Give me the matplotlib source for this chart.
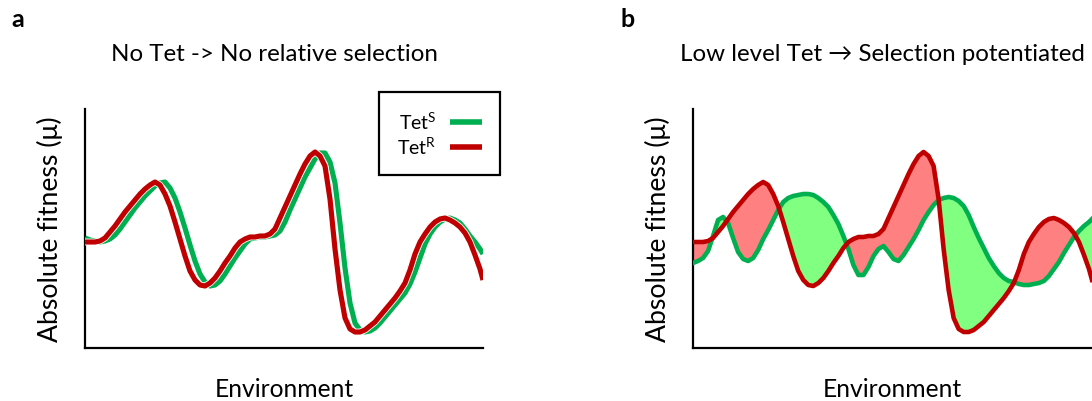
import matplotlib
matplotlib.use("Agg")
import matplotlib.pyplot as plt
import matplotlib.patheffects as pe
import numpy as np

plt.rcParams['font.family'] = ['Lato', 'DejaVu Sans']
plt.rcParams['mathtext.default'] = 'regular'

# shared environment grid
env = [0, 5, 10, 15, 20, 25, 30, 35, 40, 45, 50, 55, 60, 65, 70, 75, 80, 85, 90, 95,
       100, 105, 110, 115, 120, 125, 130, 135, 140, 145, 150, 155, 160, 165, 170, 175,
       180, 185, 190, 195, 200, 205, 210, 215, 220, 225, 230, 235, 240, 245, 250, 255,
       260, 265, 270, 275, 280, 285, 290, 295, 300, 305, 310, 315, 320, 325, 330, 335,
       340, 345, 350, 355, 360, 365, 370, 375, 380, 385, 390, 395, 398]

# Tet-R fitness (same landscape in both panels)
tetR = [106, 106, 106, 107, 110, 116, 122, 129, 136, 142, 148, 154, 159, 163, 166, 163,
        154, 142, 126, 109, 92, 77, 68, 63, 62, 65, 70, 77, 85, 92, 100, 106, 109, 111,
        111, 112, 112, 114, 119, 130, 141, 152, 163, 174, 184, 192, 196, 192, 182, 149,
        99, 58, 30, 19, 16, 16, 18, 22, 26, 32, 38, 44, 50, 57, 65, 78, 94, 106, 114,
        121, 126, 129, 130, 128, 125, 121, 115, 106, 93, 79, 68]

# Tet-S fitness, no tetracycline
tetS_a = [110, 108, 107, 106, 107, 109, 113, 119, 126, 133, 140, 146, 152, 157, 162, 165,
          166, 160, 150, 136, 120, 103, 87, 74, 66, 62, 63, 67, 74, 82, 90, 97, 104, 109,
          110, 111, 111, 112, 113, 117, 126, 138, 149, 160, 171, 180, 189, 195, 195, 186,
          165, 125, 80, 45, 25, 18, 16, 17, 20, 25, 31, 37, 43, 49, 55, 64, 76, 90, 104,
          114, 121, 126, 129, 130, 128, 125, 119, 112, 106, 99, 94]

# Tet-S fitness, low level tetracycline
tetS_b = [85, 87, 90, 97, 112, 128, 131, 125, 110, 96, 89, 87, 90, 98, 109, 118, 128, 138,
          146, 150, 152, 153, 154, 154, 153, 150, 146, 141, 133, 124, 112, 99, 83, 73, 73,
          81, 92, 99, 102, 96, 89, 87, 93, 101, 109, 118, 128, 136, 143, 148, 150, 151,
          150, 147, 142, 133, 121, 110, 100, 90, 82, 75, 70, 67, 66, 64, 63, 63, 64, 65,
          67, 72, 79, 86, 95, 103, 111, 117, 122, 126, 129]

GREEN = '#00B050'
RED = '#C00000'
FILL_RED = '#FF8080'
FILL_GREEN = '#80FF80'

W, H = 1092, 402
fig = plt.figure(figsize=(W / 100, H / 100), dpi=100)

ax_a = fig.add_axes([85 / W, 53 / H, 398 / W, 239 / H])
ax_b = fig.add_axes([693 / W, 53 / H, 399 / W, 239 / H])

x = np.array(env)
r = np.array(tetR)
ga = np.array(tetS_a)
gb = np.array(tetS_b)

# panel a
l1, = ax_a.plot(x, ga, color=GREEN, lw=3.7, solid_capstyle='butt', solid_joinstyle='round',
                label='Tet$^{S}$', zorder=3)
l2, = ax_a.plot(x, r, color=RED, lw=3.7, solid_capstyle='butt', solid_joinstyle='round',
                label='Tet$^{R}$', zorder=4,
                path_effects=[pe.Stroke(linewidth=4.9, foreground='white'), pe.Normal()])

# panel b
ax_b.fill_between(x, r, gb, where=r >= gb, interpolate=True, color=FILL_RED, lw=0, zorder=1)
ax_b.fill_between(x, r, gb, where=gb >= r, interpolate=True, color=FILL_GREEN, lw=0, zorder=1)
ax_b.plot(x, gb, color=GREEN, lw=3.3, solid_joinstyle='round', zorder=3)
ax_b.plot(x, r, color=RED, lw=3.3, solid_joinstyle='round', zorder=4)

for ax in (ax_a, ax_b):
    ax.set_xlim(0, 398)
    ax.set_ylim(0, 239)
    ax.set_xticks([])
    ax.set_yticks([])
    for s in ('top', 'right'):
        ax.spines[s].set_visible(False)
    for s in ('left', 'bottom'):
        ax.spines[s].set_linewidth(1.6)
        ax.spines[s].set_color('black')
    ax.set_facecolor('none')
    ax.text(0.5, -0.2, 'Environment', transform=ax.transAxes, ha='center',
            va='baseline', fontsize=17.7)
    ax.text(-0.088, 0.5, 'Absolute fitness (\u03bc)', transform=ax.transAxes,
            rotation=90, ha='center', va='center', fontsize=19.2)

ax_a.text(0.477, 1.205, 'No Tet -> No relative selection', transform=ax_a.transAxes,
          ha='center', va='baseline', fontsize=17.4)
ax_b.text(0.476, 1.205, 'Low level Tet \u2192 Selection potentiated', transform=ax_b.transAxes,
          ha='center', va='baseline', fontsize=17.4)

fig.text(11 / W, 1 - 27 / H, 'a', fontsize=18, fontweight='bold', ha='left', va='baseline')
fig.text(621 / W, 1 - 27 / H, 'b', fontsize=18, fontweight='bold', ha='left', va='baseline')

leg = ax_a.legend(handles=[l1, l2], loc='upper right',
                  bbox_to_anchor=(500 / W, 1 - 93 / H), bbox_transform=fig.transFigure,
                  markerfirst=False, fancybox=False, frameon=True, framealpha=1,
                  fontsize=14, handlelength=1.6, handletextpad=0.7, borderpad=0.95,
                  labelspacing=0.2, borderaxespad=0)
leg.get_frame().set_edgecolor('black')
leg.get_frame().set_linewidth(1.6)
for lh in leg.get_lines():
    lh.set_linewidth(4)
    lh.set_path_effects([])

fig.savefig('out.png', dpi=100)
